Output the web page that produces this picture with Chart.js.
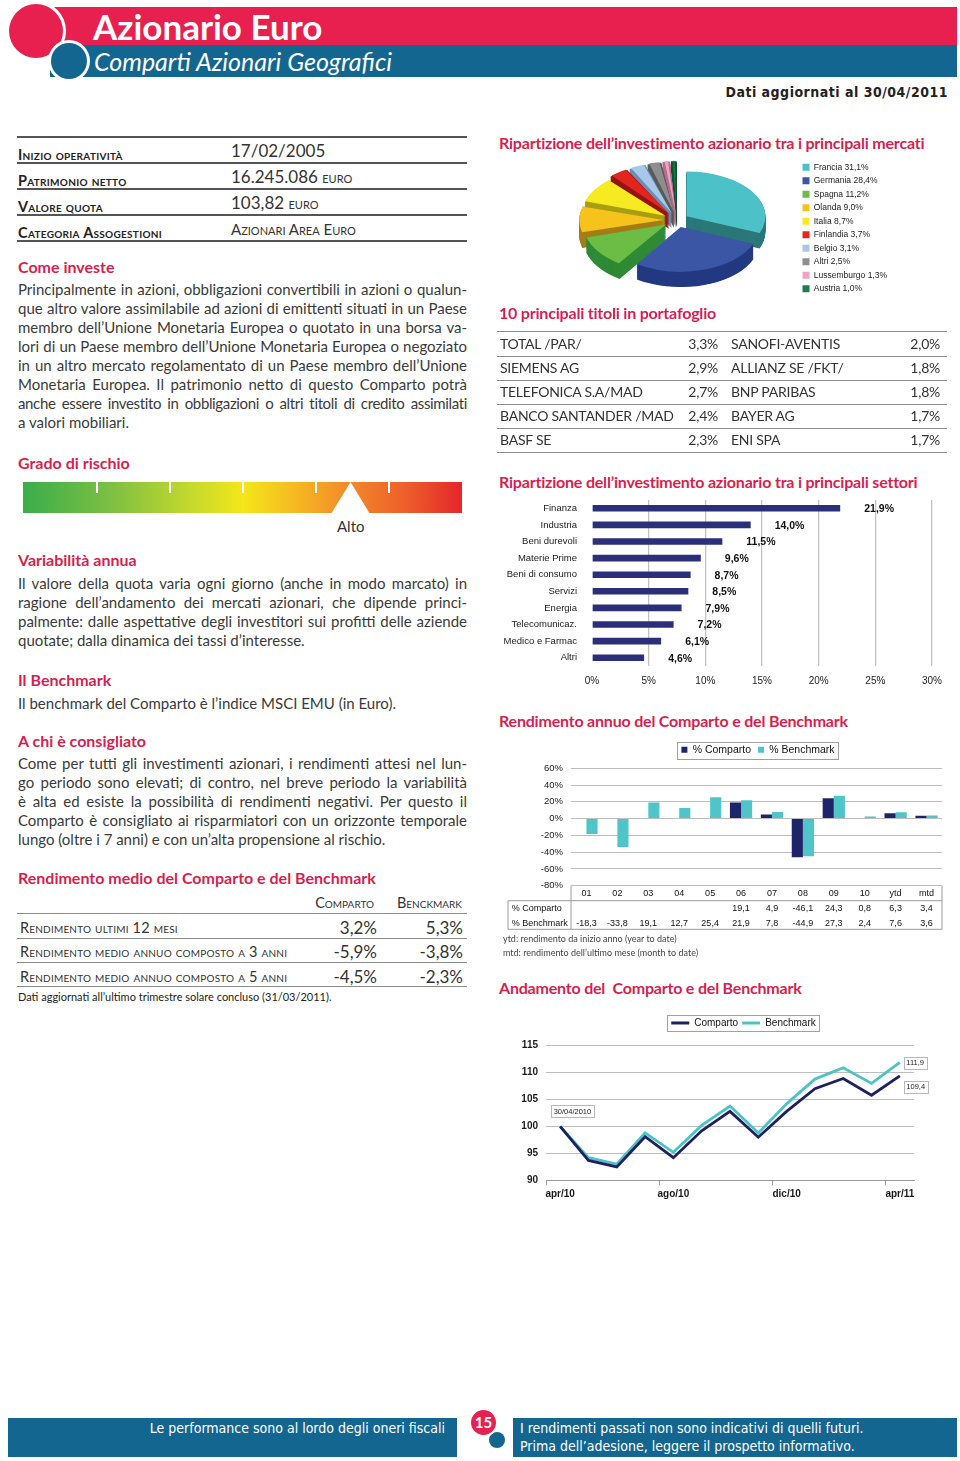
<!DOCTYPE html>
<html lang="it">
<head>
<meta charset="utf-8">
<title>Azionario Euro</title>
<script src="https://cdn.jsdelivr.net/npm/chart.js@4.4.1/dist/chart.umd.min.js"></script>
<style>
  body{margin:0;width:960px;height:1461px;position:relative;overflow:hidden;background:#fff;
       font-family:Lato,"Open Sans",sans-serif;color:#3a3a3a;}
  .a{position:absolute;}
  canvas{position:absolute;}
  .h{position:absolute;font-weight:700;font-size:16px;line-height:20px;color:#d61f4f;white-space:nowrap;}
  .h.r{letter-spacing:-0.2px;}
  .txt{position:absolute;left:18px;width:449px;font-size:15px;line-height:19px;}
  .txt div{height:19px;text-align:justify;text-align-last:justify;}
  .txt div.end{text-align-last:left;}
  .txt div.tight{letter-spacing:-0.35px;word-spacing:-1px;}
  .sc{font-variant:small-caps;}
  .ln{position:absolute;height:0;}
  .cond{font-family:"Liberation Sans Narrow","DejaVu Sans Condensed","DejaVu Sans",sans-serif;}
</style>
</head>
<body>

<!-- ========= HEADER ========= -->
<div class="a" style="left:52px;top:7px;width:905px;height:38px;background:#e8204f"></div>
<div class="a" style="left:50px;top:45px;width:907px;height:32px;background:#13668f"></div>
<div class="a" style="left:9px;top:4px;width:54px;height:54px;border-radius:50%;background:#e8204f;box-shadow:0 0 0 3px #fff"></div>
<div class="a" style="left:51px;top:43px;width:36px;height:36px;border-radius:50%;background:#13668f;box-shadow:0 0 0 3px #fff"></div>
<div class="a" style="left:93px;top:6px;font-size:35px;line-height:40px;font-weight:700;color:#fff;white-space:nowrap">Azionario Euro</div>
<div class="a" style="left:94px;top:46px;font-size:25px;line-height:30px;font-style:italic;color:#fff;white-space:nowrap">Comparti Azionari Geografici</div>
<div class="a cond" style="right:12px;top:83px;font-size:14px;line-height:18px;font-weight:700;color:#222;letter-spacing:0.5px;white-space:nowrap">Dati aggiornati al 30/04/2011</div>

<!-- ========= LEFT COLUMN ========= -->
<div class="h" style="left:18px;top:257px">Come investe</div>
<div class="txt" style="top:280px">
  <div>Principalmente in azioni, obbligazioni convertibili in azioni o qualun-</div>
  <div>que altro valore assimilabile ad azioni di emittenti situati in un Paese</div>
  <div>membro dell’Unione Monetaria Europea o quotato in una borsa va-</div>
  <div>lori di un Paese membro dell’Unione Monetaria Europea o negoziato</div>
  <div>in un altro mercato regolamentato di un Paese membro dell’Unione</div>
  <div>Monetaria Europea. Il patrimonio netto di questo Comparto potrà</div>
  <div class="tight">anche essere investito in obbligazioni o altri titoli di credito assimilati</div>
  <div class="end">a valori mobiliari.</div>
</div>

<div class="h" style="left:18px;top:453px">Grado di rischio</div>
<div class="a" style="left:23px;top:482px;width:439px;height:31px;background:linear-gradient(to right,#3aad4a 0%,#7dbf42 20%,#c4d82e 38%,#f4e71a 50%,#f6b523 63%,#f2892a 74%,#ee5f2b 87%,#e4262b 100%)"></div>
<div class="a" style="left:96px;top:482px;width:1.5px;height:11px;background:#fff"></div>
<div class="a" style="left:169px;top:482px;width:1.5px;height:11px;background:#fff"></div>
<div class="a" style="left:242px;top:482px;width:1.5px;height:11px;background:#fff"></div>
<div class="a" style="left:315px;top:482px;width:1.5px;height:11px;background:#fff"></div>
<div class="a" style="left:388px;top:482px;width:1.5px;height:11px;background:#fff"></div>
<div class="a" style="left:331px;top:482px;width:39px;height:32px;background:#fff;clip-path:polygon(50% 0,100% 100%,0 100%)"></div>
<div class="a" style="left:337px;top:516px;font-size:15px;line-height:20px;color:#333">Alto</div>

<div class="h" style="left:18px;top:550px">Variabilità annua</div>
<div class="txt" style="top:574px">
  <div>Il valore della quota varia ogni giorno (anche in modo marcato) in</div>
  <div>ragione dell’andamento dei mercati azionari, che dipende princi-</div>
  <div>palmente: dalle aspettative degli investitori sui profitti delle aziende</div>
  <div class="end">quotate; dalla dinamica dei tassi d’interesse.</div>
</div>

<div class="h" style="left:18px;top:670px">Il Benchmark</div>
<div class="txt" style="top:694px"><div class="end">Il benchmark del Comparto è l’indice MSCI EMU (in Euro).</div></div>

<div class="h" style="left:18px;top:731px">A chi è consigliato</div>
<div class="txt" style="top:754px">
  <div>Come per tutti gli investimenti azionari, i rendimenti attesi nel lun-</div>
  <div>go periodo sono elevati; di contro, nel breve periodo la variabilità</div>
  <div>è alta ed esiste la possibilità di rendimenti negativi. Per questo il</div>
  <div>Comparto è consigliato ai risparmiatori con un orizzonte temporale</div>
  <div class="end">lungo (oltre i 7 anni) e con un’alta propensione al rischio.</div>
</div>

<div class="h" style="left:18px;top:868px">Rendimento medio del Comparto e del Benchmark</div>
<div class="a" style="left:18px;top:989px;font-size:11px;line-height:15px;color:#222;white-space:nowrap">Dati aggiornati all’ultimo trimestre solare concluso (31/03/2011).</div>

<!-- ========= RIGHT COLUMN ========= -->
<div class="h r" style="left:499px;top:133px">Ripartizione dell’investimento azionario tra i principali mercati</div>
<canvas id="cPaesi" width="410" height="160" style="left:495px;top:150px"></canvas>

<div class="h r" style="left:499px;top:303px">10 principali titoli in portafoglio</div>

<div class="h r" style="left:499px;top:472px">Ripartizione dell’investimento azionario tra i principali settori</div>
<canvas id="cSettori" width="460" height="197" style="left:495px;top:495px"></canvas>

<div class="h r" style="left:499px;top:711px">Rendimento annuo del Comparto e del Benchmark</div>
<canvas id="cRend" width="460" height="202" style="left:495px;top:736px"></canvas>
<div class="a" style="left:503px;top:932px;font-size:9px;line-height:14px;color:#444;white-space:nowrap">ytd: rendimento da inizio anno (year to date)<br>mtd: rendimento dell’ultimo mese (month to date)</div>

<div class="h r" style="left:499px;top:978px">Andamento del &nbsp;Comparto e del Benchmark</div>
<canvas id="cNav" width="460" height="200" style="left:495px;top:1010px"></canvas>

<!-- ========= FOOTER ========= -->
<div class="a" style="left:8px;top:1418px;width:449px;height:39px;background:#13668f"></div>
<div class="a" style="left:513px;top:1418px;width:444px;height:39px;background:#13668f"></div>
<div class="a" style="left:489px;top:1432px;width:16px;height:16px;border-radius:50%;background:#13668f;box-shadow:0 0 0 2px #fff"></div>
<div class="a" style="left:471px;top:1410px;width:25px;height:25px;border-radius:50%;background:#e8204f;box-shadow:0 0 0 2px #fff;color:#fff;font-weight:700;font-size:15px;line-height:25px;text-align:center">15</div>
<div class="a cond" style="right:515px;top:1419px;font-size:14px;line-height:18px;color:#fff;white-space:nowrap">Le performance sono al lordo degli oneri fiscali</div>
<div class="a cond" style="left:520px;top:1419px;font-size:14px;line-height:18px;color:#fff;white-space:nowrap">I rendimenti passati non sono indicativi di quelli futuri.<br>Prima dell’adesione, leggere il prospetto informativo.</div>

<script>
/* ========= DATI ========= */
const paesi = ['Francia','Germania','Spagna','Olanda','Italia','Finlandia','Belgio','Altri','Lussemburgo','Austria'];
const pesiPaesi = [31.1, 28.4, 11.2, 9.0, 8.7, 3.7, 3.1, 2.5, 1.3, 1.0];

const settori = ['Finanza','Industria','Beni durevoli','Materie Prime','Beni di consumo','Servizi','Energia','Telecomunicaz.','Medico e Farmac','Altri'];
const pesiSettori = [21.9, 14.0, 11.5, 9.6, 8.7, 8.5, 7.9, 7.2, 6.1, 4.6];

const anni = ['01','02','03','04','05','06','07','08','09','10','ytd','mtd'];
const rendComparto  = [null, null, null, null, null, 19.1, 4.9, -46.1, 24.3, 0.8, 6.3, 3.4];
const rendBenchmark = [-18.3, -33.8, 19.1, 12.7, 25.4, 21.9, 7.8, -44.9, 27.3, 2.4, 7.6, 3.6];

const mesi = ['apr/10','mag/10','giu/10','lug/10','ago/10','set/10','ott/10','nov/10','dic/10','gen/11','feb/11','mar/11','apr/11'];
const navComparto  = [100, 93.7, 92.5, 98.1, 94.2, 99.2, 102.8, 98.0, 102.8, 107.0, 108.9, 105.8, 109.4];
const navBenchmark = [100, 94.2, 93.0, 98.8, 95.2, 100.2, 103.8, 98.8, 104.2, 108.8, 110.9, 108.0, 111.9];
const dataInizio = '30/04/2010';

const titoliA = ['TOTAL /PAR/','SIEMENS AG','TELEFONICA S.A/MAD','BANCO SANTANDER /MAD','BASF SE'];
const pesiTitoliA = [3.3, 2.9, 2.7, 2.4, 2.3];
const titoliB = ['SANOFI-AVENTIS','ALLIANZ SE /FKT/','BNP PARIBAS','BAYER AG','ENI SPA'];
const pesiTitoliB = [2.0, 1.8, 1.8, 1.7, 1.7];

const voceRend = ['Rendimento ultimi 12 mesi','Rendimento medio annuo composto a 3 anni','Rendimento medio annuo composto a 5 anni'];
const rendMedioComparto  = [3.2, -5.9, -4.5];
const rendMedioBenchmark = [5.3, -3.8, -2.3];

/* ========= HELPERS ========= */
const fmt = v => v.toFixed(1).replace('.', ',');
const FONT = "'Liberation Sans', Arial, sans-serif";
const el = html => document.body.insertAdjacentHTML('beforeend', html);

/* ========= TABELLE HTML ========= */
// info fondo
[['Inizio operatività','17/02/2005'],
 ['Patrimonio netto','16.245.086 <span class="sc" style="font-size:16px">euro</span>'],
 ['Valore quota','103,82 <span class="sc" style="font-size:16px">euro</span>'],
 ['Categoria Assogestioni','<span class="sc" style="font-size:15px">Azionari Area Euro</span>']
].forEach((r, i) => {
  const t = 137 + i * 26;
  el(`<div class="ln" style="left:17px;top:${t - 1}px;width:450px;border-top:2px solid #555"></div>`);
  el(`<div class="a sc" style="left:18px;top:${t + 9}px;font-size:14.5px;line-height:17px;font-weight:700;color:#222;letter-spacing:0.3px;white-space:nowrap">${r[0]}</div>`);
  el(`<div class="a" style="left:231px;top:${t + 2}px;font-size:17px;line-height:24px;color:#333;white-space:nowrap">${r[1]}</div>`);
});
el(`<div class="ln" style="left:17px;top:240px;width:450px;border-top:2px solid #555"></div>`);

// rendimento medio
el(`<div class="a sc" style="right:586px;top:894px;font-size:14.5px;line-height:18px;color:#333">Comparto</div>`);
el(`<div class="a sc" style="right:498px;top:894px;font-size:14.5px;line-height:18px;color:#333">Benckmark</div>`);
el(`<div class="ln" style="left:17px;top:913px;width:450px;border-top:1.5px solid #8a8a8a"></div>`);
voceRend.forEach((v, i) => {
  const c = 928 + i * 24.3;
  el(`<div class="a sc" style="left:20px;top:${c - 9}px;font-size:14.5px;line-height:18px;color:#333;letter-spacing:0.2px;white-space:nowrap">${v}</div>`);
  el(`<div class="a" style="right:583px;top:${c - 11}px;font-size:17px;line-height:22px;color:#333">${fmt(rendMedioComparto[i])}%</div>`);
  el(`<div class="a" style="right:497px;top:${c - 11}px;font-size:17px;line-height:22px;color:#333">${fmt(rendMedioBenchmark[i])}%</div>`);
  el(`<div class="ln" style="left:17px;top:${c + 9.5}px;width:450px;border-top:1.5px solid #8a8a8a"></div>`);
});

// 10 principali titoli
el(`<div class="ln" style="left:497px;top:331px;width:450px;border-top:1.5px solid #8a8a8a"></div>`);
titoliA.forEach((t, i) => {
  const c = 343.5 + i * 24.1;
  const s = `position:absolute;top:${c - 10}px;font-size:14px;line-height:20px;color:#333;letter-spacing:-0.25px;white-space:nowrap`;
  el(`<div style="${s};left:500px">${t}</div>`);
  el(`<div style="${s};right:242px">${fmt(pesiTitoliA[i])}%</div>`);
  el(`<div style="${s};left:731px">${titoliB[i]}</div>`);
  el(`<div style="${s};right:20px">${fmt(pesiTitoliB[i])}%</div>`);
  el(`<div class="ln" style="left:497px;top:${c + 12}px;width:450px;border-top:1.5px solid #8a8a8a"></div>`);
});

/* ========= CHART DEFAULTS ========= */
Chart.defaults.font.family = FONT;
Chart.defaults.color = '#1a1a1a';
Chart.defaults.animation = false;
Chart.defaults.responsive = false;
Chart.defaults.plugins.tooltip.enabled = false;

/* ========= PLUGINS ========= */
// torta 3D: schiaccia la torta ed estrude i lati
const pie3d = {
  id: 'pie3d',
  beforeDatasetsDraw(chart, args, o) {
    const ctx = chart.ctx, arcs = chart.getDatasetMeta(0).data;
    const cx = arcs[0].x, cy = arcs[0].y;
    ctx.save();
    ctx.translate(o.x, o.y); ctx.scale(1, o.tilt); ctx.translate(-cx, -cy);
    const steps = Math.ceil(o.depth / o.tilt);
    for (let d = steps; d > 0; d--) {
      arcs.forEach((a, i) => {
        const mid = (a.startAngle + a.endAngle) / 2, t = (a.options.offset || 0) / 4;
        const fix = 1 - Math.sin(Math.min(Math.PI, a.endAngle - a.startAngle));
        const x = a.x + Math.cos(mid) * t, y = a.y + Math.sin(mid) * t + d;
        ctx.fillStyle = o.sides[i];
        ctx.beginPath(); ctx.moveTo(x, y);
        ctx.arc(x, y, a.outerRadius + t * fix, a.startAngle, a.endAngle);
        ctx.closePath(); ctx.fill();
      });
    }
  },
  afterDatasetsDraw(chart) { chart.ctx.restore(); }
};

// etichette valore barre orizzontali
const etichetteBarre = {
  id: 'etichetteBarre',
  afterDatasetsDraw(chart) {
    const ctx = chart.ctx;
    ctx.save();
    ctx.font = 'bold 10.5px ' + FONT; ctx.fillStyle = '#111'; ctx.textBaseline = 'middle';
    chart.getDatasetMeta(0).data.forEach((b, i) => ctx.fillText(fmt(chart.data.datasets[0].data[i]) + '%', b.x + 24, b.y + 1));
    ctx.restore();
  }
};

// bordo attorno alla legenda (+ spostamento orizzontale)
const legendBox = {
  id: 'legendBox',
  afterLayout(chart, args, o) {
    if (o.dx) { chart.legend.left += o.dx; chart.legend.right += o.dx; }
  },
  afterDraw(chart, args, o) {
    const hb = chart.legend.legendHitBoxes, ctx = chart.ctx;
    const l = Math.min(...hb.map(h => h.left)) - o.pad, r = Math.max(...hb.map(h => h.left + h.width)) + o.pad;
    const t = hb[0].top - 3, b = hb[0].top + hb[0].height + 3;
    ctx.save(); ctx.strokeStyle = '#a0a0a0'; ctx.lineWidth = 1;
    ctx.strokeRect(Math.round(l) + .5, Math.round(t) + .5, Math.round(r - l), Math.round(b - t));
    ctx.restore();
  }
};

// tabella dati sotto l'istogramma
const tabellaDati = {
  id: 'tabellaDati',
  afterDraw(chart, args, o) {
    const {ctx, chartArea: a, scales: {x}} = chart;
    const top = a.bottom, r1 = top + 15, bot = top + 43.6;
    ctx.save();
    ctx.strokeStyle = '#9a9a9a'; ctx.lineWidth = 1;
    ctx.beginPath();
    ctx.moveTo(a.left, top); ctx.lineTo(a.left, bot);
    ctx.moveTo(a.right, top); ctx.lineTo(a.right, bot);
    ctx.moveTo(o.left, r1); ctx.lineTo(a.right, r1);
    ctx.moveTo(o.left, bot); ctx.lineTo(a.right, bot);
    ctx.moveTo(o.left, r1); ctx.lineTo(o.left, bot);
    ctx.stroke();
    ctx.font = '9px ' + FONT; ctx.fillStyle = '#111'; ctx.textBaseline = 'middle'; ctx.textAlign = 'center';
    chart.data.labels.forEach((l, i) => {
      const cx = x.getPixelForValue(i);
      ctx.fillText(l, cx, top + 8.3);
      chart.data.datasets.forEach((ds, k) => {
        if (ds.data[i] != null) ctx.fillText(fmt(ds.data[i]), cx, top + 23.3 + k * 14.7);
      });
    });
    ctx.textAlign = 'left';
    chart.data.datasets.forEach((ds, k) => ctx.fillText(ds.label, o.left + 3.7, top + 23.3 + k * 14.7));
    ctx.restore();
  }
};

// riquadri valori sulla linea
const etichetteLinea = {
  id: 'etichetteLinea',
  afterDatasetsDraw(chart) {
    const {ctx, scales: {x, y}} = chart;
    const last = chart.data.labels.length - 1;
    const [comp, bench] = chart.data.datasets.map(d => d.data);
    const box = (text, left, cy) => {
      ctx.font = '7.5px ' + FONT;
      const w = Math.round(ctx.measureText(text).width + 5);
      ctx.fillStyle = '#fff'; ctx.fillRect(left, cy - 6, w, 12);
      ctx.strokeStyle = '#b8b8b8'; ctx.lineWidth = 1; ctx.strokeRect(Math.round(left) + .5, Math.round(cy - 6) + .5, w, 12);
      ctx.fillStyle = '#222'; ctx.textBaseline = 'middle'; ctx.fillText(text, left + 2.5, cy + .5);
    };
    ctx.save();
    box(dataInizio, x.getPixelForValue(0) - 9, y.getPixelForValue(comp[0]) - 15.5);
    box(fmt(bench[last]), x.getPixelForValue(last) + 4, y.getPixelForValue(bench[last]) + 0.5);
    box(fmt(comp[last]), x.getPixelForValue(last) + 4, y.getPixelForValue(comp[last]) + 11);
    ctx.restore();
  }
};

/* ========= TORTA PAESI ========= */
const coloriPaesi = ['#4cc2c8','#3a56a5','#6bbd45','#f5c31b','#f7ea21','#e3241f','#a8c8ea','#8e8e8e','#f1a2c4','#18804a'];
const latiPaesi   = ['#2b7878','#233a82','#2f8a35','#a47d14','#a89f12','#95150f','#6d8db2','#5a5a5a','#b66d8d','#0b5430'];
new Chart(document.getElementById('cPaesi'), {
  type: 'pie',
  data: {
    labels: paesi.map((p, i) => p + ' ' + fmt(pesiPaesi[i]) + '%'),
    datasets: [{ data: pesiPaesi, backgroundColor: coloriPaesi, borderWidth: 0, radius: 78, clip: false,
                 offset: [46, 52, 54, 54, 54, 54, 54, 54, 54, 54] }]
  },
  options: {
    layout: { padding: { top: 8, right: 8 } },
    plugins: {
      legend: { position: 'right', align: 'start',
                labels: { boxWidth: 7, boxHeight: 7, padding: 5, font: { size: 8.5 }, color: '#222' } },
      pie3d: { x: 182, y: 70, tilt: 0.57, depth: 15, sides: latiPaesi }
    }
  },
  plugins: [pie3d]
});

/* ========= BARRE SETTORI ========= */
new Chart(document.getElementById('cSettori'), {
  type: 'bar',
  data: { labels: settori, datasets: [{ data: pesiSettori, backgroundColor: '#2b2e78', barPercentage: 0.4, categoryPercentage: 1 }] },
  options: {
    indexAxis: 'y',
    layout: { padding: { top: 5, right: 23 } },
    plugins: { legend: { display: false } },
    scales: {
      x: { min: 0, max: 30,
           ticks: { stepSize: 5, padding: 9, font: { size: 10 }, callback: v => v + '%' },
           grid: { drawTicks: false, lineWidth: 1.3, color: c => c.tick && c.tick.value === 0 ? 'rgba(0,0,0,0)' : '#c2c2c2' },
           border: { display: false },
           afterFit: s => { s.height = 26; } },
      y: { ticks: { padding: 7, font: { size: 9.5 } }, grid: { display: false }, border: { display: false },
           afterFit: s => { s.width = 97; s.paddingTop = 0; s.paddingBottom = 0; } }
    }
  },
  plugins: [etichetteBarre]
});

/* ========= RENDIMENTO ANNUO ========= */
new Chart(document.getElementById('cRend'), {
  type: 'bar',
  data: {
    labels: anni,
    datasets: [
      { label: '% Comparto', data: rendComparto, backgroundColor: '#1f2468' },
      { label: '% Benchmark', data: rendBenchmark, backgroundColor: '#4fc5ca' }
    ]
  },
  options: {
    datasets: { bar: { categoryPercentage: 0.72, barPercentage: 1 } },
    layout: { padding: { top: 1.5, right: 13 } },
    plugins: {
      legend: { labels: { boxWidth: 6, boxHeight: 6, padding: 7, font: { size: 10.5 }, color: '#111' } },
      title: { display: true, text: '', weight: 0, font: { size: 0 }, padding: { top: 0, bottom: 3.3 } },
      legendBox: { dx: 39.5, pad: 4 },
      tabellaDati: { left: 13 }
    },
    scales: {
      x: { ticks: { display: false }, grid: { display: false }, border: { display: false },
           afterFit: s => { s.height = 52.3; } },
      y: { min: -80, max: 60,
           ticks: { stepSize: 20, padding: 8, font: { size: 9.5 }, callback: v => v + '%' },
           grid: { drawTicks: false, color: '#bdbdbd' }, border: { display: false },
           afterFit: s => { s.width = 76; } }
    }
  },
  plugins: [legendBox, tabellaDati]
});

/* ========= ANDAMENTO ========= */
new Chart(document.getElementById('cNav'), {
  type: 'line',
  data: {
    labels: mesi,
    datasets: [
      { label: 'Comparto', data: navComparto, borderColor: '#1d2160', backgroundColor: '#1d2160', borderWidth: 2.8, pointRadius: 0 },
      { label: 'Benchmark', data: navBenchmark, borderColor: '#4cc4c4', backgroundColor: '#4cc4c4', borderWidth: 2.8, pointRadius: 0 }
    ]
  },
  options: {
    layout: { padding: { top: 4, right: 41 } },
    plugins: {
      legend: { labels: { boxWidth: 18, boxHeight: 3, padding: 4, font: { size: 10 }, color: '#111',
                generateLabels: ch => Chart.defaults.plugins.legend.labels.generateLabels(ch).map(l => ({ ...l, lineWidth: 0 })) } },
      title: { display: true, text: '', weight: 0, font: { size: 0 }, padding: { top: 0, bottom: 7.7 } },
      legendBox: { dx: 39, pad: 4 }
    },
    scales: {
      x: { offset: true,
           grid: { offset: true, drawOnChartArea: false, tickLength: 5, color: c => c.index % 4 === 0 ? '#999' : 'rgba(0,0,0,0)' },
           border: { color: '#999' },
           ticks: { autoSkip: false, maxRotation: 0, font: { size: 10, weight: 'bold' },
                    callback(v, i) { return i % 4 === 0 ? this.getLabelForValue(v) : ''; } },
           afterFit: s => { s.height = 29.7; } },
      y: { min: 90, max: 115,
           ticks: { stepSize: 5, padding: 8, font: { size: 10, weight: 'bold' } },
           grid: { drawTicks: false, color: '#bdbdbd' }, border: { display: false },
           afterFit: s => { s.width = 51; } }
    }
  },
  plugins: [legendBox, etichetteLinea]
});
</script>
</body>
</html>
